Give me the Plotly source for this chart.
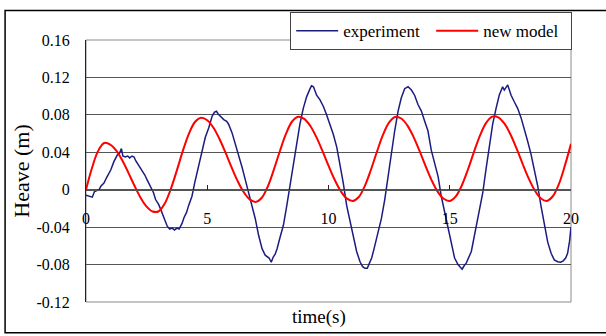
import plotly.graph_objects as go

# Measured heave (experiment), time in seconds
time_exp = [0.00, 0.10, 0.26, 0.35, 0.45, 0.54, 0.62, 0.74, 0.85, 0.95, 1.02, 1.15, 1.22, 1.29, 1.38,
            1.46, 1.52, 1.62, 1.72, 1.80, 1.90, 1.98, 2.05, 2.12, 2.20, 2.32, 2.42, 2.53, 2.67, 2.78,
            2.87, 3.00, 3.08, 3.22, 3.35, 3.45, 3.55, 3.65, 3.75, 3.84, 3.96, 4.04, 4.15, 4.23, 4.37,
            4.48, 4.56, 4.65, 4.78, 4.92, 5.06, 5.20, 5.30, 5.38, 5.45, 5.54, 5.68, 5.80, 5.88, 6.02,
            6.16, 6.30, 6.43, 6.57, 6.71, 6.85, 6.98, 7.12, 7.26, 7.39, 7.48, 7.55, 7.64, 7.72, 7.80,
            7.88, 8.00, 8.14, 8.28, 8.41, 8.55, 8.69, 8.82, 8.96, 9.10, 9.24, 9.30, 9.38, 9.51, 9.65,
            9.79, 9.92, 10.06, 10.20, 10.34, 10.47, 10.61, 10.75, 10.89, 11.02, 11.16, 11.30, 11.40,
            11.50, 11.60, 11.68, 11.78, 11.88, 11.99, 12.04, 12.18, 12.32, 12.45, 12.59, 12.73, 12.87,
            13.00, 13.14, 13.28, 13.42, 13.55, 13.69, 13.83, 13.97, 14.10, 14.24, 14.38, 14.52, 14.65,
            14.79, 14.93, 15.07, 15.20, 15.34, 15.45, 15.51, 15.60, 15.68, 15.89, 16.00, 16.08, 16.22,
            16.36, 16.49, 16.63, 16.77, 16.91, 17.04, 17.18, 17.25, 17.39, 17.53, 17.66, 17.80, 17.94,
            18.07, 18.21, 18.35, 18.49, 18.63, 18.76, 18.90, 19.04, 19.18, 19.31, 19.45, 19.57, 19.68,
            19.78, 19.86, 19.94, 20.00]
heave_exp = [-0.006, -0.007, -0.008, -0.002, -0.001, 0.000, 0.004, 0.007, 0.013, 0.018, 0.021, 0.030,
             0.033, 0.037, 0.039, 0.044, 0.036, 0.035, 0.036, 0.034, 0.036, 0.035, 0.031, 0.028, 0.026,
             0.021, 0.016, 0.010, 0.0035, -0.003, -0.0105, -0.016, -0.021, -0.031, -0.039, -0.042,
             -0.041, -0.043, -0.041, -0.042, -0.036, -0.030, -0.024, -0.017, -0.007, 0.007, 0.016,
             0.028, 0.042, 0.056, 0.066, 0.0785, 0.083, 0.084, 0.081, 0.0785, 0.075, 0.073, 0.070,
             0.061, 0.049, 0.038, 0.0245, 0.0105, -0.0035, -0.0174, -0.031, -0.049, -0.063, -0.070,
             -0.072, -0.073, -0.0775, -0.072, -0.069, -0.063, -0.051, -0.038, -0.017, 0.0035, 0.0245,
             0.049, 0.070, 0.087, 0.0995, 0.108, 0.111, 0.110, 0.101, 0.096, 0.089, 0.080, 0.070,
             0.059, 0.0455, 0.028, 0.007, -0.017, -0.035, -0.052, -0.066, -0.077, -0.082, -0.084,
             -0.084, -0.079, -0.073, -0.063, -0.052, -0.045, -0.031, -0.0105, 0.014, 0.038, 0.063,
             0.084, 0.098, 0.108, 0.110, 0.1065, 0.101, 0.091, 0.084, 0.073, 0.063, 0.042, 0.028,
             0.014, -0.007, -0.0245, -0.042, -0.059, -0.073, -0.080, -0.083, -0.085, -0.081, -0.0785,
             -0.066, -0.052, -0.042, -0.0245, -0.0035, 0.021, 0.0455, 0.070, 0.087, 0.101, 0.110,
             0.1065, 0.112, 0.101, 0.094, 0.087, 0.077, 0.066, 0.052, 0.038, 0.021, 0.0035, -0.017,
             -0.038, -0.056, -0.068, -0.075, -0.077, -0.0775, -0.076, -0.073, -0.068, -0.055, -0.040]

# New model prediction, sampled every 0.25 s
time_model = [0.00, 0.25, 0.50, 0.75, 1.00, 1.25, 1.50, 1.75, 2.00, 2.25, 2.50, 2.75, 3.00, 3.25,
              3.50, 3.75, 4.00, 4.25, 4.50, 4.75, 5.00, 5.25, 5.50, 5.75, 6.00, 6.25, 6.50, 6.75,
              7.00, 7.25, 7.50, 7.75, 8.00, 8.25, 8.50, 8.75, 9.00, 9.25, 9.50, 9.75, 10.00, 10.25,
              10.50, 10.75, 11.00, 11.25, 11.50, 11.75, 12.00, 12.25, 12.50, 12.75, 13.00, 13.25,
              13.50, 13.75, 14.00, 14.25, 14.50, 14.75, 15.00, 15.25, 15.50, 15.75, 16.00, 16.25,
              16.50, 16.75, 17.00, 17.25, 17.50, 17.75, 18.00, 18.25, 18.50, 18.75, 19.00, 19.25,
              19.50, 19.75, 20.00]
heave_model = [0.0, 0.0235, 0.0415, 0.0499, 0.0483, 0.0418, 0.0312, 0.0180, 0.0042, -0.0085,
               -0.0180, -0.0233, -0.0230, -0.0146, 0.0010, 0.0209, 0.0420, 0.0602, 0.0726, 0.0770,
               0.0743, 0.0665, 0.0545, 0.0398, 0.0242, 0.0095, -0.0025, -0.0103, -0.0130, -0.0086,
               0.0037, 0.0217, 0.0417, 0.0599, 0.0729, 0.0780, 0.0757, 0.0681, 0.0562, 0.0415,
               0.0257, 0.0109, -0.0013, -0.0093, -0.0120, -0.0078, 0.0041, 0.0213, 0.0408, 0.0588,
               0.0720, 0.0778, 0.0761, 0.0688, 0.0568, 0.0417, 0.0256, 0.0103, -0.0020, -0.0097,
               -0.0120, -0.0071, 0.0048, 0.0216, 0.0405, 0.0581, 0.0714, 0.0781, 0.0774, 0.0708,
               0.0593, 0.0444, 0.0280, 0.0124, -0.0005, -0.0091, -0.0120, -0.0070, 0.0060, 0.0260,
               0.0490]

x_ticks = [0, 5, 10, 15, 20]
x_tick_text = ["0", "5", "10", "15", "20"]
y_ticks = [-0.12, -0.08, -0.04, 0, 0.04, 0.08, 0.12, 0.16]
y_tick_text = ["-0.12", "-0.08", "-0.04", "0", "0.04", "0.08", "0.12", "0.16"]

W, H = 606, 336
ML, MR, MT, MB = 86, 34.5, 35, 34.3
PW, PH = W - ML - MR, H - MT - MB
SERIF = "Liberation Serif"


def px_x(p):
    return (p - ML) / PW


def px_y(p):
    return (H - MB - p) / PH


fig = go.Figure()
fig.add_trace(go.Scatter(x=time_exp, y=heave_exp, mode="lines", name="experiment",
                         line=dict(color="#1c1c80", width=1.5)))
fig.add_trace(go.Scatter(x=time_model, y=heave_model, mode="lines", name="new model",
                         line=dict(color="#ff0000", width=2, shape="spline", smoothing=1)))

fig.update_layout(
    width=W, height=H,
    margin=dict(l=ML, r=MR, t=MT, b=MB, pad=0),
    paper_bgcolor="white", plot_bgcolor="white",
    font=dict(family=SERIF, size=16, color="black"),
    showlegend=True,
    legend=dict(orientation="h", x=px_x(572.7), xanchor="right", y=px_y(6.7), yanchor="top",
                bgcolor="white", bordercolor="#444444", borderwidth=1,
                font=dict(family=SERIF, size=17, color="black"),
                itemwidth=42, entrywidth=83, entrywidthmode="pixels"),
    xaxis=dict(range=[0, 20], tickvals=x_ticks, ticktext=x_tick_text,
               anchor="free", position=0.12 / 0.28,
               showline=True, linecolor="#555555", linewidth=1,
               ticks="inside", ticklen=5, tickcolor="#222222",
               ticklabelstandoff=14, showgrid=False, zeroline=False,
               tickfont=dict(family=SERIF, size=16)),
    yaxis=dict(range=[-0.12, 0.16], tickvals=y_ticks, ticktext=y_tick_text,
               showline=True, linecolor="#222222", linewidth=1,
               showgrid=True, gridcolor="#555555", gridwidth=1, zeroline=False,
               ticks="", ticklabelstandoff=12,
               tickfont=dict(family=SERIF, size=16),
               title=dict(text="Heave (m)", font=dict(family=SERIF, size=22), standoff=0)),
    shapes=[
        # plot area frame (bottom and right edges)
        dict(type="rect", xref="paper", yref="paper", x0=0, x1=1, y0=0, y1=1,
             line=dict(color="#8a8a8a", width=1), layer="below"),
        # outer chart border
        dict(type="rect", xref="paper", yref="paper", x0=px_x(5), x1=px_x(620),
             y0=px_y(333), y1=px_y(5), line=dict(color="black", width=1.5)),
    ],
    annotations=[
        dict(text="time(s)", xref="paper", yref="paper", x=px_x(319.5), y=px_y(317),
             xanchor="center", yanchor="middle", showarrow=False,
             font=dict(family=SERIF, size=19, color="black")),
    ],
)

fig.write_html("out.html")
